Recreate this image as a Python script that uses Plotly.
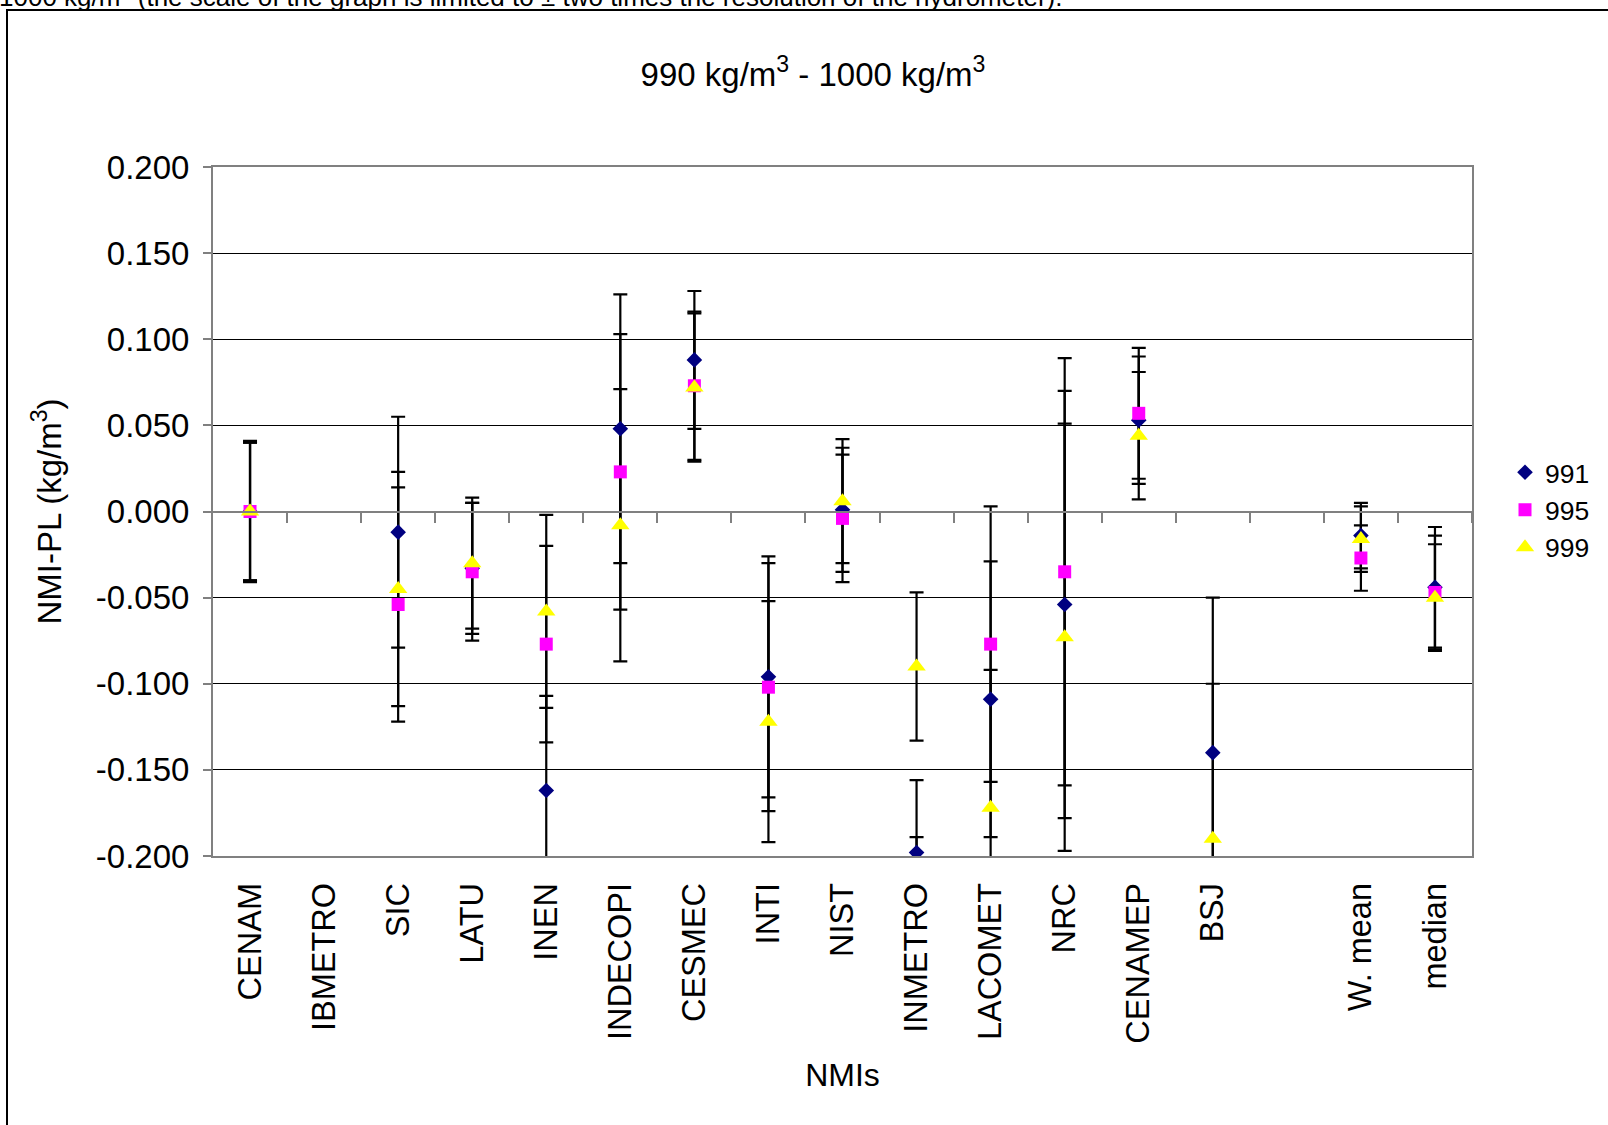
import plotly.graph_objects as go

categories = ["CENAM", "IBMETRO", "SIC", "LATU", "INEN", "INDECOPI", "CESMEC", "INTI",
              "NIST", "INMETRO", "LACOMET", "NRC", "CENAMEP", "BSJ", " ", "W. mean", "median"]

s991 = [0.000, None, -0.012, -0.033, -0.162, 0.048, 0.088, -0.096, 0.001, -0.198,
        -0.109, -0.054, 0.053, -0.140, None, -0.014, -0.044]
e991 = [0.041, None, 0.067, 0.038, 0.055, 0.078, 0.040, 0.070, 0.036, 0.042,
        0.080, 0.124, 0.037, 0.090, None, 0.019, 0.035]

s995 = [0.000, None, -0.054, -0.035, -0.077, 0.023, 0.073, -0.102, -0.004, -0.231,
        -0.077, -0.035, 0.057, None, None, -0.027, -0.047]
e995 = [0.040, None, 0.068, 0.040, 0.057, 0.080, 0.043, 0.072, 0.037, 0.042,
        0.080, 0.124, 0.038, None, None, 0.019, 0.033]

s999 = [0.000, None, -0.045, -0.030, -0.058, -0.008, 0.072, -0.122, 0.006, -0.090,
        -0.172, -0.073, 0.044, -0.190, None, -0.016, -0.050]
e999 = [0.040, None, 0.068, 0.038, 0.056, 0.079, 0.043, 0.070, 0.036, 0.043,
        0.080, 0.124, 0.037, 0.090, None, 0.019, 0.031]

series_names = ["991", "995", "999"]
y_ticks = [-0.2, -0.15, -0.1, -0.05, 0.0, 0.05, 0.1, 0.15, 0.2]
y_tick_labels = ["-0.200", "-0.150", "-0.100", "-0.050", "0.000", "0.050", "0.100", "0.150", "0.200"]

title_text = "990 kg/m<sup>3</sup> - 1000 kg/m<sup>3</sup>"
y_title = "NMI-PL (kg/m<sup>3</sup>)"
x_title = "NMIs"
top_note = "1000 kg/m<sup>3</sup> (the scale of the graph is limited to ± two times the resolution of the hydrometer)."

FONT = "Liberation Sans, Arial, sans-serif"
W, H = 1608, 1125
L, T = 213, 167
R = W - 1472
B = H - 856
PW, PH = W - L - R, H - T - B

def px_x(p):
    return (p - L) / PW

def px_y(p):
    return (H - B - p) / PH

fig = go.Figure()

values = [s991, s995, s999]
errors = [e991, e995, e999]
markers = [
    dict(symbol="diamond", size=12, color="#000080"),
    dict(symbol="square", size=13, color="#FF00FF"),
    dict(symbol="triangle-up", size=16, color="#FFFF00"),
]

# error bars first (below all markers)
for vals, errs in zip(values, errors):
    fig.add_trace(go.Scatter(
        x=categories, y=vals, mode="markers",
        marker=dict(size=1, color="rgba(0,0,0,0)"),
        error_y=dict(type="data", array=errs, symmetric=True, color="black",
                     thickness=2.2, width=7),
        showlegend=False, hoverinfo="skip"))

for vals, name, mk in zip(values, series_names, markers):
    fig.add_trace(go.Scatter(
        x=categories, y=vals, mode="markers", name=name,
        marker=dict(symbol=mk["symbol"], size=mk["size"], color=mk["color"],
                    line=dict(width=0))))

n = len(categories)
fig.update_layout(
    width=W, height=H,
    margin=dict(l=L, r=R, t=T, b=B, pad=0),
    paper_bgcolor="white", plot_bgcolor="white",
    font=dict(family=FONT, size=32, color="black"),
    title=dict(text=title_text, xref="paper", x=px_x(813), xanchor="center",
               yref="container", y=1 - 74 / H, yanchor="middle",
               font=dict(family=FONT, size=33, color="black")),
    xaxis=dict(type="category", categoryorder="array", categoryarray=categories,
               range=[-0.5, n - 0.5], tickangle=-90, ticks="", showgrid=False,
               showline=True, linecolor="#808080", linewidth=2, mirror=True,
               tickfont=dict(family=FONT, size=32.5, color="black"),
               ticklabelstandoff=12,
               title=dict(text=x_title, standoff=21,
                          font=dict(family=FONT, size=32, color="black"))),
    xaxis2=dict(overlaying="x", anchor="free", position=0.5, range=[-0.5, n - 0.5],
                tickmode="array", tickvals=[i + 0.5 for i in range(n)],
                showticklabels=False, ticks="outside", ticklen=10, tickwidth=2,
                tickcolor="#808080", showline=True, linecolor="#808080", linewidth=2,
                showgrid=False, zeroline=False),
    yaxis=dict(range=[-0.2, 0.2], tickmode="array", tickvals=y_ticks, ticktext=y_tick_labels,
               showgrid=True, gridcolor="black", gridwidth=1, zeroline=False,
               showline=True, linecolor="#808080", linewidth=2, mirror=True,
               ticks="outside", ticklen=8, tickwidth=2, tickcolor="#808080",
               tickfont=dict(family=FONT, size=33, color="black"),
               ticklabelstandoff=7,
               title=dict(text=y_title, standoff=24,
                          font=dict(family=FONT, size=33, color="black"))),
    legend=dict(x=px_x(1505), xanchor="left", y=px_y(510), yanchor="middle",
                bgcolor="rgba(0,0,0,0)", borderwidth=0,
                font=dict(family=FONT, size=26.5, color="black"),
                itemsizing="trace", tracegroupgap=0),
    shapes=[dict(type="rect", xref="paper", yref="paper",
                 x0=px_x(7), x1=px_x(1640), y0=px_y(1140), y1=px_y(10),
                 line=dict(color="black", width=2), fillcolor="rgba(0,0,0,0)",
                 layer="below")],
    annotations=[dict(text=top_note, xref="paper", yref="paper",
                      x=px_x(-3), xanchor="left", y=px_y(-4), yanchor="middle",
                      showarrow=False, font=dict(family=FONT, size=26, color="black"))],
)

# invisible trace so the zero-crossing category axis renders
fig.add_trace(go.Scatter(x=[0], y=[None], xaxis="x2", mode="markers",
                         showlegend=False, hoverinfo="skip"))

fig.write_html("out.html", config={"displayModeBar": False},
               post_script="document.body.style.margin='0';")
